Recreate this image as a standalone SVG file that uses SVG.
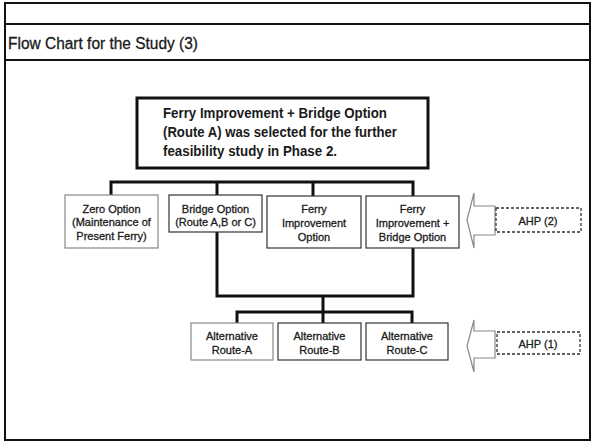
<svg xmlns="http://www.w3.org/2000/svg" width="592" height="442" viewBox="0 0 592 442">
  <style>
    .frame { fill: none; stroke: #111; stroke-width: 2; }
    .box { fill: #fff; stroke: #333; stroke-width: 1.2; }
    .faint { stroke: #888; }
    .main { fill: #fff; stroke: #111; stroke-width: 3; }
    .bus { fill: none; stroke: #111; stroke-width: 3; }
    .arrow { fill: #fff; stroke: #888; stroke-width: 1.2; }
    .ahp { fill: #fff; stroke: #333; stroke-width: 1.3; stroke-dasharray: 3 2; }
    text { font-family: "Liberation Sans", Arial, sans-serif; fill: #1a1a1a; }
    .title { font-size: 16px; stroke: #1a1a1a; stroke-width: 0.3; }
    .lead { font-size: 14.5px; font-weight: bold; }
    .lbl { font-size: 11px; text-anchor: middle; stroke: #1a1a1a; stroke-width: 0.3; }
  </style>

  <rect width="592" height="442" fill="#fff"/>

  <!-- page frame with title band -->
  <g id="page">
    <rect class="frame" x="5" y="3" width="585" height="437"/>
    <line class="frame" x1="5" y1="24" x2="590" y2="24"/>
    <line class="frame" x1="5" y1="60" x2="590" y2="60"/>
    <text class="title" x="8" y="49" textLength="190" lengthAdjust="spacingAndGlyphs">Flow Chart for the Study (3)</text>
  </g>

  <!-- connectors -->
  <g id="connectors">
    <path class="bus" d="M111,195 V182 H413 V196 M217,182 V195 M313,182 V196"/>
    <path class="bus" d="M217,232 V296 H413 V248 M323,296 V312 M237,323 V312 H412 V323 M323,312 V323"/>
  </g>

  <g id="conclusion">
    <rect class="main" x="137" y="98" width="291" height="70"/>
    <text class="lead" x="163" y="118" textLength="224" lengthAdjust="spacingAndGlyphs">Ferry Improvement + Bridge Option</text>
    <text class="lead" x="163" y="137" textLength="234" lengthAdjust="spacingAndGlyphs">(Route A) was selected for the further</text>
    <text class="lead" x="163" y="156" textLength="174" lengthAdjust="spacingAndGlyphs">feasibility study in Phase 2.</text>
  </g>

  <g id="zero-option">
    <rect class="box faint" x="65" y="195" width="93" height="53"/>
    <text class="lbl" x="111.5" y="213">Zero Option</text>
    <text class="lbl" x="111.5" y="226">(Maintenance of</text>
    <text class="lbl" x="111.5" y="240">Present Ferry)</text>
  </g>

  <g id="bridge-option">
    <rect class="box" x="169" y="195" width="93" height="37"/>
    <text class="lbl" x="215.5" y="213">Bridge Option</text>
    <text class="lbl" x="215.5" y="226">(Route A,B or C)</text>
  </g>

  <g id="ferry-option">
    <rect class="box" x="267" y="196" width="94" height="52"/>
    <text class="lbl" x="314" y="213">Ferry</text>
    <text class="lbl" x="314" y="227">Improvement</text>
    <text class="lbl" x="314" y="241">Option</text>
  </g>

  <g id="ferry-bridge-option">
    <rect class="box" x="366" y="196" width="93" height="52"/>
    <text class="lbl" x="412.5" y="213">Ferry</text>
    <text class="lbl" x="412.5" y="227">Improvement +</text>
    <text class="lbl" x="412.5" y="241">Bridge Option</text>
  </g>

  <g id="route-a">
    <rect class="box faint" x="191" y="323" width="82" height="37"/>
    <text class="lbl" x="232" y="340">Alternative</text>
    <text class="lbl" x="232" y="354">Route-A</text>
  </g>

  <g id="route-b">
    <rect class="box" x="278" y="323" width="83" height="37"/>
    <text class="lbl" x="319.5" y="340">Alternative</text>
    <text class="lbl" x="319.5" y="354">Route-B</text>
  </g>

  <g id="route-c">
    <rect class="box" x="366" y="323" width="82" height="37"/>
    <text class="lbl" x="407" y="340">Alternative</text>
    <text class="lbl" x="407" y="354">Route-C</text>
  </g>

  <g id="ahp-2">
    <path class="arrow" d="M495,206 H474 V193 L467,220 L474,248 V235 H495 Z"/>
    <rect class="ahp" x="496" y="208" width="85" height="24"/>
    <text class="lbl" x="538" y="225">AHP (2)</text>
  </g>

  <g id="ahp-1">
    <path class="arrow" d="M495,331 H474 V320 L467,346 L474,372 V358 H495 Z"/>
    <rect class="ahp" x="497" y="332" width="83" height="22"/>
    <text class="lbl" x="538" y="348">AHP (1)</text>
  </g>
</svg>
